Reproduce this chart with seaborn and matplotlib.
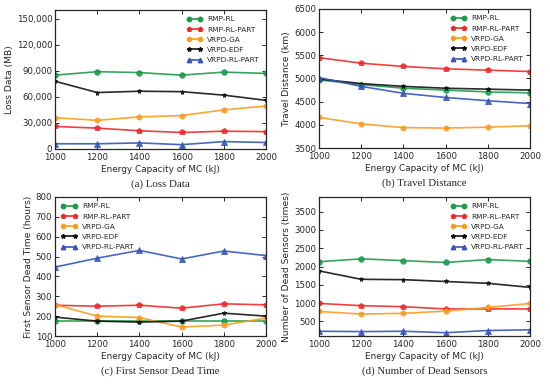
import numpy as np
import pandas as pd
import matplotlib
matplotlib.use("Agg")
import matplotlib.pyplot as plt
import matplotlib.ticker as mticker
from matplotlib.lines import Line2D
import seaborn as sns

# x axis: energy capacity of the MC
capacity = [1000, 1200, 1400, 1600, 1800, 2000]
methods = ["RMP-RL", "RMP-RL-PART", "VRPD-GA", "VRPD-EDF", "VRPD-RL-PART"]

# (a) loss data (MB)
loss_rmp_rl = [85000, 89000, 88000, 85000, 88500, 87000]
loss_rmp_part = [26000, 24000, 21000, 19000, 20500, 20000]
loss_ga = [36000, 33000, 37000, 38500, 45000, 49500]
loss_edf = [78000, 65000, 66500, 66000, 62000, 56000]
loss_vrpd_part = [6000, 6000, 7000, 5000, 8500, 7500]

# (b) travel distance (km)
dist_rmp_rl = [4970, 4870, 4790, 4750, 4710, 4690]
dist_rmp_part = [5450, 5330, 5260, 5210, 5180, 5150]
dist_ga = [4160, 4020, 3940, 3930, 3950, 3980]
dist_edf = [4990, 4890, 4830, 4790, 4770, 4750]
dist_vrpd_part = [5020, 4830, 4680, 4590, 4520, 4460]

# (c) first sensor dead time (hours)
dead_rmp_rl = [175, 175, 175, 175, 175, 175]
dead_rmp_part = [255, 250, 255, 240, 262, 257]
dead_ga = [258, 200, 193, 145, 155, 190]
dead_edf = [195, 175, 170, 175, 215, 200]
dead_vrpd_part = [447, 492, 531, 488, 528, 505]

# (d) number of dead sensors (times)
num_rmp_rl = [2130, 2210, 2160, 2110, 2190, 2140]
num_rmp_part = [990, 930, 900, 840, 840, 840]
num_ga = [770, 700, 720, 780, 880, 990]
num_edf = [1880, 1650, 1640, 1590, 1540, 1430]
num_vrpd_part = [230, 220, 230, 190, 250, 270]

palette = {"RMP-RL": "#1f9a4a", "RMP-RL-PART": "#ee2a2a", "VRPD-GA": "#ff9a20",
           "VRPD-EDF": "#111111", "VRPD-RL-PART": "#3556b8"}
markers = {"RMP-RL": "o", "RMP-RL-PART": "p", "VRPD-GA": "h",
           "VRPD-EDF": "*", "VRPD-RL-PART": "^"}


def make_df(series):
    rows = []
    for name, vals in zip(methods, series):
        for x, v in zip(capacity, vals):
            rows.append({"capacity": x, "method": name, "value": v})
    return pd.DataFrame(rows)


sns.set_style("ticks")
plt.rcParams.update({
    "xtick.direction": "in", "ytick.direction": "in",
    "xtick.top": True, "ytick.right": True,
    "xtick.major.size": 3, "ytick.major.size": 3,
    "axes.linewidth": 0.9,
})
plt.rcParams["font.family"] = ["DejaVu Sans"]

fig = plt.figure(figsize=(5.5, 3.87), dpi=100)
W, H = 550, 387

panels = [
    ((55, 10), [loss_rmp_rl, loss_rmp_part, loss_ga, loss_edf, loss_vrpd_part],
     "Loss Data (MB)", (0, 160000), np.arange(0, 150001, 30000), "upper right", "(a) Loss Data"),
    ((319, 9), [dist_rmp_rl, dist_rmp_part, dist_ga, dist_edf, dist_vrpd_part],
     "Travel Distance (km)", (3500, 6500), np.arange(3500, 6501, 500), "upper right", "(b) Travel Distance"),
    ((55, 197), [dead_rmp_rl, dead_rmp_part, dead_ga, dead_edf, dead_vrpd_part],
     "First Sensor Dead Time (hours)", (100, 800), np.arange(100, 801, 100), "upper left", "(c) First Sensor Dead Time"),
    ((319, 197), [num_rmp_rl, num_rmp_part, num_ga, num_edf, num_vrpd_part],
     "Number of Dead Sensors (times)", (100, 3900), np.arange(500, 3501, 500), "upper right", "(d) Number of Dead Sensors"),
]

handles = [Line2D([], [], color=palette[m], marker=markers[m], markersize=3.2,
                  markeredgecolor=palette[m], linewidth=1.2) for m in methods]

for (px, py), series, ylabel, ylim, yticks, loc, caption in panels:
    aw, ah = 211, 139
    ax = fig.add_axes([px / W, 1 - (py + ah) / H, aw / W, ah / H])
    df = make_df(series)
    sns.lineplot(data=df, x="capacity", y="value", hue="method", style="method",
                 palette=palette, markers=markers, dashes=False, linewidth=1.2,
                 markersize=4, markeredgewidth=0.6, legend=False, ax=ax)
    for ln in ax.lines:
        ln.set_markeredgecolor(ln.get_color())
        ln.set_alpha(0.9)
        if ln.get_marker() == "*":
            ln.set_markersize(3.6)
    ax.set_xlim(1000, 2000)
    ax.set_ylim(*ylim)
    ax.set_xticks(capacity)
    ax.set_yticks(yticks)
    if ylim[1] > 10000:
        ax.yaxis.set_major_formatter(mticker.StrMethodFormatter("{x:,.0f}"))
    ax.tick_params(labelsize=6.2, width=0.7)
    ax.tick_params(axis="x", pad=3)
    ax.tick_params(axis="y", pad=2)
    ax.set_xlabel("Energy Capacity of MC (kJ)", fontsize=6.4, labelpad=2)
    ax.set_ylabel(ylabel, fontsize=6.6, labelpad=2)
    ax.legend(handles, methods, loc=loc, frameon=False, fontsize=5.3, numpoints=2,
              handlelength=2.2, handletextpad=0.6, labelspacing=0.55, borderaxespad=0.45)
    fig.text((px + aw / 2) / W, 1 - (py + ah + 35) / H, caption,
             ha="center", va="center", fontsize=7.8, family="Liberation Serif")

fig.savefig("out.png", dpi=100)
